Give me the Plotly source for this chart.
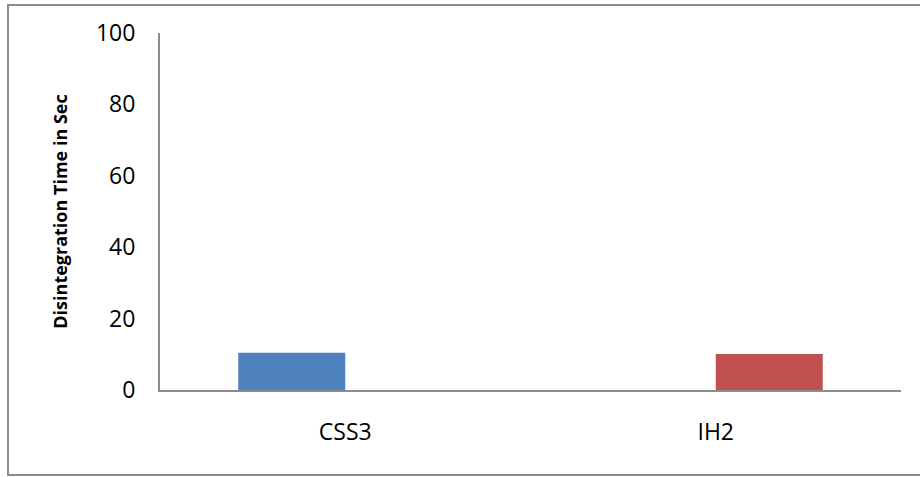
import plotly.graph_objects as go

# Disintegration time per formulation
categories = ["CSS3", "IH2"]
css3_times = [10.4, None]
ih2_times = [None, 10.1]
y_ticks = [0, 20, 40, 60, 80, 100]

fig = go.Figure()
fig.add_trace(go.Bar(x=categories, y=css3_times, name="CSS3",
                     marker=dict(color="#4F81BD", line=dict(width=0))))
fig.add_trace(go.Bar(x=categories, y=ih2_times, name="IH2",
                     marker=dict(color="#C0504D", line=dict(width=0))))

font_family = "Open Sans, Liberation Sans, sans-serif"
axis_grey = "#8C8C8C"

fig.update_layout(
    width=920, height=477,
    margin=dict(l=160, r=19, t=33, b=87),
    paper_bgcolor="white", plot_bgcolor="white",
    showlegend=False,
    barmode="group", bargap=0.4224, bargroupgap=0,
    font=dict(family=font_family, color="#000000", size=23),
    xaxis=dict(
        showline=True, linecolor=axis_grey, linewidth=2,
        showgrid=False, ticks="", ticklabelstandoff=20,
        tickfont=dict(size=23), fixedrange=True,
    ),
    yaxis=dict(
        range=[0, 100], tickvals=y_ticks, showline=True,
        linecolor=axis_grey, linewidth=2, showgrid=False, zeroline=False,
        ticks="", ticklabelstandoff=18, tickfont=dict(size=23),
        title=dict(text="<b>Disintegration Time in Sec</b>",
                   font=dict(size=18), standoff=24),
        automargin=False, fixedrange=True,
    ),
    shapes=[dict(
        type="rect", xref="paper", yref="paper",
        x0=(8 - 160) / 741, x1=(925 - 160) / 741,
        y0=(390 - 475) / 357, y1=(390 - 5) / 357,
        line=dict(color=axis_grey, width=2), fillcolor="rgba(0,0,0,0)",
        layer="below",
    )],
)

fig.write_html("out.html")
